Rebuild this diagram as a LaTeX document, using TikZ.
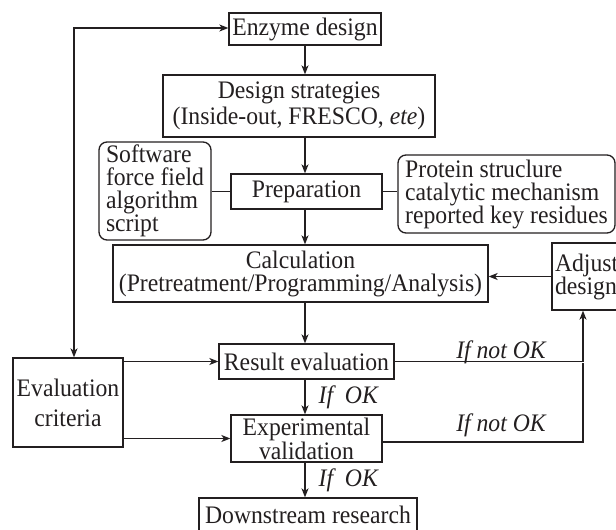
\documentclass[tikz,border=0pt]{standalone}
\usepackage{fontspec}
\setmainfont[FakeStretch=0.94]{Liberation Serif}
\usetikzlibrary{arrows.meta}
\definecolor{ink}{RGB}{35,31,32}
\begin{document}
\begin{tikzpicture}[x=1pt,y=-1pt,
  every node/.style={font=\fontsize{25.2}{23}\selectfont, text=ink},
  box/.style={draw=ink, line width=1.3pt, inner sep=0pt, align=center},
  rbox/.style={box, rounded corners=8pt},
  conn/.style={draw=ink, line width=1.3pt},
  arr/.style={conn, -{Stealth[length=9pt,width=7pt,inset=2.5pt]}},
  lbl/.style={font=\fontsize{25.2}{23}\selectfont\itshape, inner sep=0pt}
]
\useasboundingbox (0,0) rectangle (616,530);
\clip (0,0) rectangle (616,530);

\node[box, minimum width=152pt, minimum height=32pt] (enz) at (305,29) {Enzyme design};
\node[box, minimum width=272pt, minimum height=62pt, font=\fontsize{25.2}{26}\selectfont] (strat) at (299,106) {Design strategies\\(Inside-out, FRESCO, \textit{ete})};
\node[rbox, minimum width=112pt, minimum height=98pt, align=left] (soft) at (155,191) {Software\\force field\\algorithm\\script};
\node[box, minimum width=151pt, minimum height=35pt] (prep) at (306.5,191.5) {Preparation};
\node[rbox, minimum width=217pt, minimum height=78pt, align=left] (prot) at (506.5,194) {Protein struclure\\catalytic mechanism\\reported key residues};
\node[box, minimum width=375pt, minimum height=57pt] (calc) at (300.5,273.5) {Calculation\\(Pretreatment/Programming/Analysis)};
\node[box, minimum width=130pt, minimum height=67pt, text width=124pt, align=left] (adj) at (617,276.5) {Adjust\\design};
\node[box, minimum width=110pt, minimum height=89pt, font=\fontsize{25.2}{30}\selectfont] (eval) at (68,402.5) {Evaluation\\criteria};
\node[box, minimum width=175pt, minimum height=35pt] (res) at (306.5,361.5) {Result evaluation};
\node[box, minimum width=151pt, minimum height=47pt, font=\fontsize{25.2}{22}\selectfont] (exp) at (306.5,438.5) {Experimental\\validation};
\node[box, minimum width=218pt, minimum height=34pt] (down) at (308,515) {Downstream research};

\coordinate (lc) at (74,28);
\coordinate (jn) at (583,363);

\draw[arr] (enz.south) -- (enz.south |- strat.north);
\draw[arr] (enz.south |- strat.south) -- (enz.south |- prep.north);
\draw[arr] (enz.south |- prep.south) -- (enz.south |- calc.north);
\draw[arr] (enz.south |- calc.south) -- (enz.south |- res.north);
\draw[arr] (enz.south |- res.south) -- (enz.south |- exp.north) node[lbl, midway, anchor=west, xshift=13pt] {If\ \ OK};
\draw[arr] (enz.south |- exp.south) -- (enz.south |- down.north) node[lbl, midway, anchor=west, xshift=13pt] {If\ \ OK};

\draw[conn] (soft.east |- prep.west) -- (prep.west);
\draw[conn] (prep.east) -- (prep.east -| prot.west);
\draw[arr] (adj.west) -- (adj.west -| calc.east);

\draw[conn, {Stealth[length=9pt,width=7pt,inset=2.5pt]}-{Stealth[length=9pt,width=7pt,inset=2.5pt]}] (eval.north -| lc) -- (lc) -- (lc -| enz.west);
\draw[arr] (eval.east |- res.west) -- (res.west);
\draw[arr] (eval.east |- exp.west) -- (exp.west);

\draw[arr] (res.east) -| (adj.south -| jn);
\draw[conn] ([yshift=-3.5pt]exp.east) -| (jn);
\node[lbl] (nok1) at (501,352) {If not OK};
\node[lbl] (nok2) at (501,425) {If not OK};
\end{tikzpicture}
\end{document}
